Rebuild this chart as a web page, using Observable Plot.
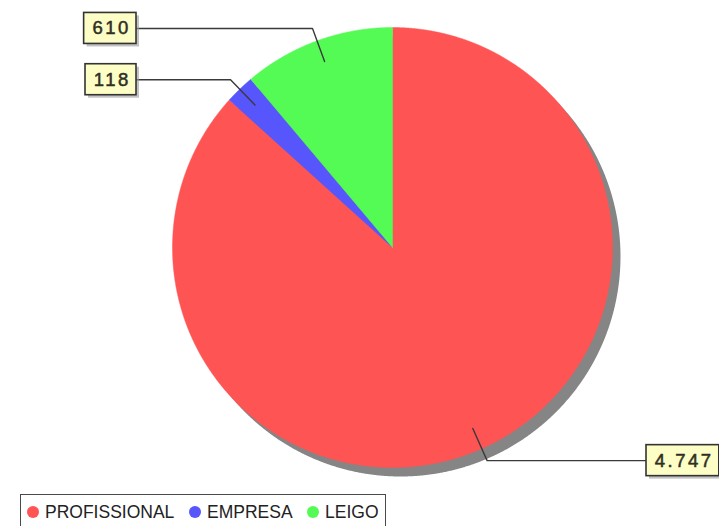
<!DOCTYPE html>
<html><head><meta charset="utf-8">
<script src="https://cdn.jsdelivr.net/npm/d3@7"></script>
<script src="https://cdn.jsdelivr.net/npm/@observablehq/plot@0.6"></script>
<style>
body{margin:0;background:#fff;font-family:"Liberation Sans",Arial,sans-serif;overflow:hidden;}
#wrap{position:relative;width:719px;height:526px;}
#legend{position:absolute;left:20px;top:494px;width:366px;height:44px;border:1.5px solid #4a4a4a;box-sizing:border-box;}
.item{position:absolute;top:7px;font-size:17.5px;color:#222;white-space:nowrap;line-height:20px;}
.dot{position:absolute;top:4px;width:12px;height:12px;border-radius:50%;}
</style></head><body>
<div id="wrap"><div id="chart"></div><div id="legend"></div></div>
<script>
const categories = ["PROFISSIONAL", "EMPRESA", "LEIGO"];
const values = [4747, 118, 610];
const valueLabels = ["4.747", "118", "610"];
const colors = ["#fe5454", "#5656fc", "#55fb55"];

const W = 719, H = 490, CX = 392, CY = 247, R = 220;
const u = px => px / R; // pixels to data units

const arcs = d3.pie().sort(null).value(d => d)(values);
const step = Math.PI / 720;
function slice(a0, a1, dx = 0, dy = 0) {
  const pts = [{x: dx, y: dy}];
  const n = Math.max(2, Math.ceil((a1 - a0) / step));
  for (let i = 0; i <= n; i++) {
    const a = a0 + (a1 - a0) * i / n;
    pts.push({x: dx + Math.sin(a), y: dy + Math.cos(a)});
  }
  pts.push({x: dx, y: dy});
  return pts;
}

// label geometry
const ctx = document.createElement("canvas").getContext("2d");
ctx.font = "18.5px 'Liberation Sans', Arial";
const LS = 2.5, BOXH = 31, PAD = 7;
const labels = arcs.map((a, i) => {
  const m = (a.startAngle + a.endAngle) / 2;
  const left = Math.sin(m) < 0;
  const p0 = {x: 0.9 * Math.sin(m), y: 0.9 * Math.cos(m)};
  const p1 = {x: 1.06 * Math.sin(m), y: 1.06 * Math.cos(m)};
  const tw = ctx.measureText(valueLabels[i]).width + LS * valueLabels[i].length;
  const bw = tw + 2 * PAD;
  const edge = left ? u(136 - CX) : u(646 - CX);
  const x1 = left ? edge - u(bw) : edge;
  const x2 = left ? edge : edge + u(bw);
  return {i, line: [p0, p1, {x: edge, y: p1.y}], x1, x2, y1: p1.y - u(BOXH / 2), y2: p1.y + u(BOXH / 2), cx: (x1 + x2) / 2 + u(LS / 2), cy: p1.y, text: valueLabels[i]};
});

const marks = [];
// pie shadow
marks.push(Plot.line(slice(0, 2 * Math.PI, u(8), -u(9)), {x: "x", y: "y", fill: "#858585", stroke: "none"}));
arcs.forEach((a, i) => {
  marks.push(Plot.line(slice(a.startAngle, a.endAngle), {x: "x", y: "y", fill: colors[i], stroke: colors[i], strokeWidth: 0.5}));
});
labels.forEach(l => {
  marks.push(Plot.line(l.line, {x: "x", y: "y", stroke: "#3a3a3a", strokeWidth: 1.4, fill: "none"}));
});
marks.push(Plot.rect(labels, {x1: d => d.x1 + u(3), x2: d => d.x2 + u(3), y1: d => d.y1 - u(3), y2: d => d.y2 - u(3), fill: "#9a9a9a", fillOpacity: 0.6}));
marks.push(Plot.rect(labels, {x1: "x1", x2: "x2", y1: "y1", y2: "y2", fill: "#fdfdc6", stroke: "#333", strokeWidth: 1.6}));
marks.push(Plot.text(labels, {x: "cx", y: "cy", text: "text", fontSize: 18.5, fill: "#2e2e22", stroke: "#2e2e22", strokeWidth: 0.5, textAnchor: "middle", fontFamily: "'Liberation Sans', Arial, sans-serif"}));

const chart = Plot.plot({
  width: W, height: H, margin: 0,
  x: {domain: [u(-CX), u(W - CX)], axis: null},
  y: {domain: [-u(H - CY), u(CY)], axis: null},
  style: {background: "transparent", letterSpacing: LS + "px", overflow: "visible"},
  marks
});
document.getElementById("chart").appendChild(chart);

// legend
const legend = document.getElementById("legend");
const dotX = [6, 168, 286];
categories.forEach((c, i) => {
  const d = document.createElement("div");
  d.className = "dot";
  d.style.left = dotX[i] + "px";
  d.style.top = "11px";
  d.style.background = colors[i];
  legend.appendChild(d);
  const t = document.createElement("div");
  t.className = "item";
  t.style.left = (dotX[i] + 18) + "px";
  t.textContent = c;
  legend.appendChild(t);
});
</script>
</body></html>
